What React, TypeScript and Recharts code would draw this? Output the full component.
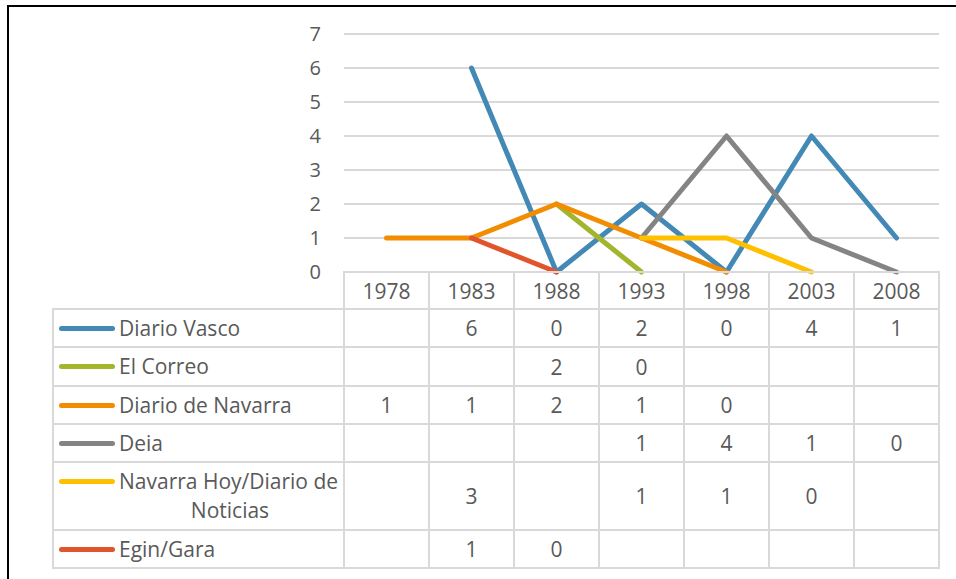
import { LineChart, Line, XAxis, YAxis, CartesianGrid } from 'recharts'

const years = ['1978', '1983', '1988', '1993', '1998', '2003', '2008']
const yTicks = [0, 1, 2, 3, 4, 5, 6, 7]

// valores por año (null = sin dato)
const diarioVasco = [null, 6, 0, 2, 0, 4, 1]
const elCorreo = [null, null, 2, 0, null, null, null]
const diarioNavarra = [1, 1, 2, 1, 0, null, null]
const deia = [null, null, null, 1, 4, 1, 0]
const navarraHoy = [null, 3, null, 1, 1, 0, null]
const eginGara = [null, 1, 0, null, null, null, null]

const series = [
  { key: 'dv', name: 'Diario Vasco', values: diarioVasco, color: '#4389B6', rowH: 38 },
  { key: 'ec', name: 'El Correo', values: elCorreo, color: '#A2B52C', rowH: 39 },
  { key: 'dn', name: 'Diario de Navarra', values: diarioNavarra, color: '#F28C00', rowH: 38 },
  { key: 'de', name: 'Deia', values: deia, color: '#848484', rowH: 38 },
  { key: 'nh', name: 'Navarra Hoy/Diario de Noticias', values: navarraHoy, color: '#FFC000', rowH: 68 },
  { key: 'eg', name: 'Egin/Gara', values: eginGara, color: '#E0552B', rowH: 38 },
]

// sin marcadores, un punto aislado no se ve (como en Excel)
const plotted = (vals: (number | null)[], i: number) => {
  const v = vals[i]
  if (v == null) return null
  const prev = i > 0 ? vals[i - 1] : null
  const next = i < vals.length - 1 ? vals[i + 1] : null
  return prev == null && next == null ? null : v
}

const data = years.map((year, i) => {
  const row: Record<string, string | number | null> = { year }
  series.forEach(s => { row[s.key] = plotted(s.values, i) })
  return row
})

const txt = '#595959', bd = '#d9d9d9', font = '"Open Sans", sans-serif'
const cellB = `2px solid ${bd}`

export default function App() {
  return (
    <div style={{ position: 'absolute', left: 0, top: 0, width: 956, height: 579, background: '#fff', overflow: 'hidden', fontFamily: font }}>
      {/* marco negro */}
      <div style={{ position: 'absolute', left: 7, top: 5, width: 960, height: 600, borderTop: '2px solid #000', borderLeft: '2px solid #000' }} />

      <div style={{ position: 'absolute', left: 0, top: 0 }}>
        <LineChart width={956} height={300} data={data} margin={{ top: 34, right: 17, bottom: 28, left: 284 }}>
          <CartesianGrid vertical={false} stroke={bd} strokeWidth={2} />
          <XAxis dataKey="year" hide padding={{ left: 42.5, right: 42.5 }} />
          <YAxis
            domain={[0, 7]} ticks={yTicks} width={60}
            axisLine={false} tickLine={false} tickSize={0} tickMargin={23}
            tick={{ fontSize: 20, fill: txt, fontFamily: font }}
          />
          {series.map(s => (
            <Line key={s.key} dataKey={s.key} name={s.name} stroke={s.color} strokeWidth={5}
              dot={false} activeDot={false} isAnimationActive={false} strokeLinecap="round" strokeLinejoin="round" />
          ))}
        </LineChart>
      </div>

      {/* tabla de datos */}
      <table style={{ position: 'absolute', left: 52, top: 271, borderCollapse: 'collapse', tableLayout: 'fixed', width: 888, color: txt, fontSize: 21, fontFamily: font }}>
        <colgroup>
          <col style={{ width: 291 }} />
          {years.map(y => <col key={y} style={{ width: 85 }} />)}
        </colgroup>
        <tbody>
          <tr style={{ height: 37 }}>
            <td style={{ padding: 0 }} />
            {years.map(y => (
              <td key={y} style={{ border: cellB, textAlign: 'center', padding: 0 }}>{y}</td>
            ))}
          </tr>
          {series.map(s => (
            <tr key={s.key} style={{ height: s.rowH }}>
              <td style={{ border: cellB, padding: '0 0 0 5px', verticalAlign: 'middle' }}>
                <div style={{ display: 'flex', alignItems: 'flex-start' }}>
                  <div style={{ height: 29, display: 'flex', alignItems: 'center', flex: 'none' }}>
                    <div style={{ width: 56, height: 5, borderRadius: 3, background: s.color }} />
                  </div>
                  <div style={{ maxWidth: 222, marginLeft: 4, textAlign: 'left', textAlignLast: 'center', lineHeight: '29px' }}>{s.name}</div>
                </div>
              </td>
              {s.values.map((v, i) => (
                <td key={i} style={{ border: cellB, textAlign: 'center', padding: 0, verticalAlign: 'middle' }}>{v ?? ''}</td>
              ))}
            </tr>
          ))}
        </tbody>
      </table>
    </div>
  )
}
